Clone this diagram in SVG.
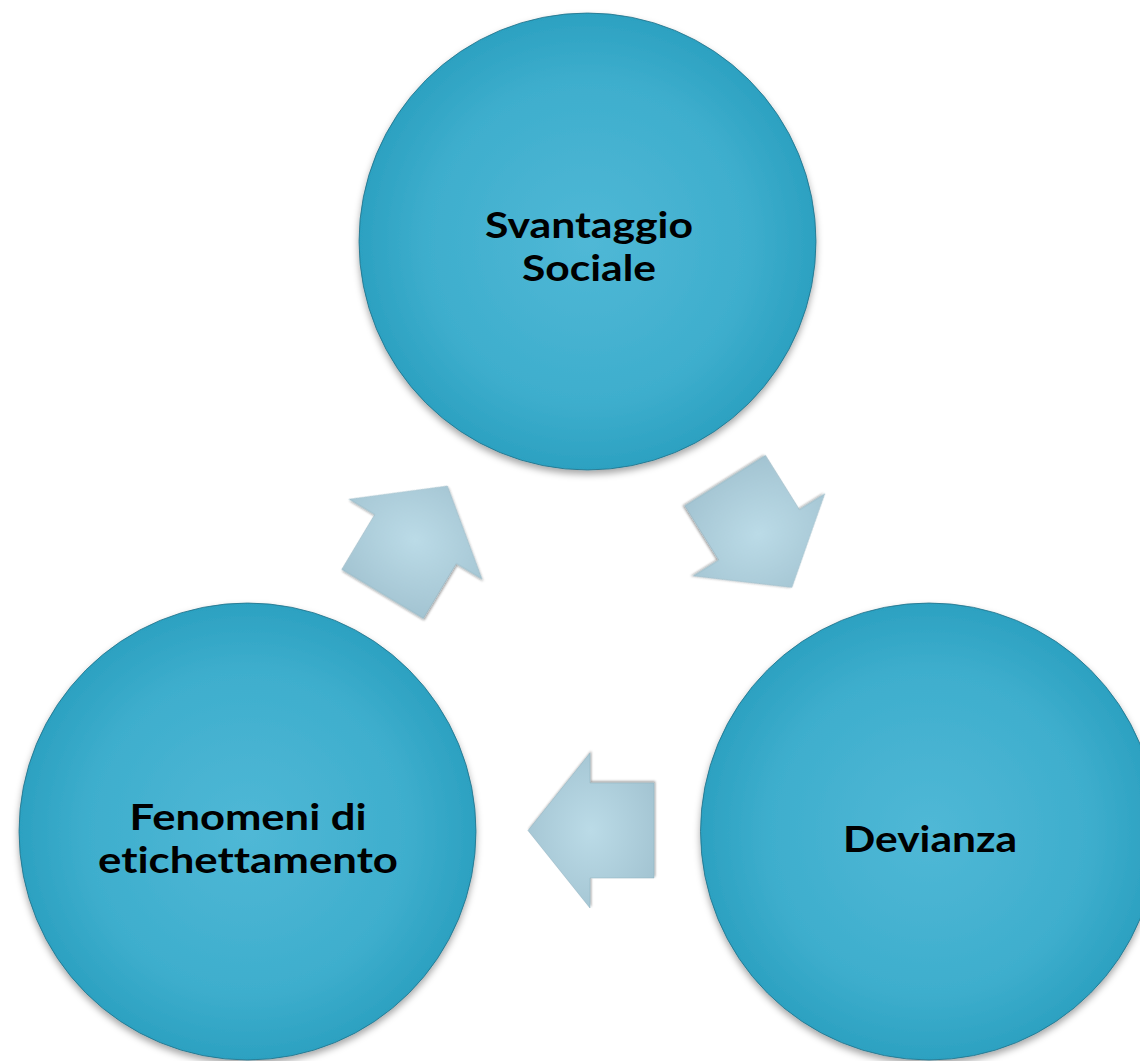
<svg xmlns="http://www.w3.org/2000/svg" width="1140" height="1061" viewBox="0 0 1140 1061">
<defs>
<radialGradient id="gc" cx="0.5" cy="0.5" r="0.5">
<stop offset="0" stop-color="#50b8d6"/>
<stop offset="0.7" stop-color="#3eaecd"/>
<stop offset="1" stop-color="#2ca1c1"/>
</radialGradient>
<radialGradient id="ga" cx="0.5" cy="0.5" r="0.6">
<stop offset="0" stop-color="#bbdbe7"/>
<stop offset="1" stop-color="#a2c3d1"/>
</radialGradient>
<filter id="sh" x="-20%" y="-20%" width="140%" height="140%">
<feDropShadow dx="0" dy="4" stdDeviation="3.5" flood-color="#000" flood-opacity="0.35"/>
</filter>
<filter id="sha" x="-30%" y="-30%" width="160%" height="160%">
<feDropShadow dx="-1" dy="1.5" stdDeviation="1.2" flood-color="#000" flood-opacity="0.4"/>
</filter>
<polygon id="arrow" points="63,0 1,-77.5 1,-47.5 -63,-47.5 -63,47.5 1,47.5 1,77.5"/>
</defs>
<style>
.node circle{fill:url(#gc);stroke:#1f6f86;stroke-width:0.8;filter:url(#sh)}
.lbl{font-family:Lato,"Open Sans","Liberation Sans",sans-serif;font-weight:bold;font-size:36px;fill:#000;text-anchor:middle;font-variant-ligatures:none}
.arr{fill:url(#ga);filter:url(#sha);stroke:#8fb0bf;stroke-width:0.5}
</style>
<rect width="1140" height="1061" fill="#fff"/>
<g id="node-svantaggio" class="node">
<circle cx="587.5" cy="241.5" r="228.5"/>
<text class="lbl" x="589" y="238" textLength="208" lengthAdjust="spacingAndGlyphs">Svantaggio</text>
<text class="lbl" x="589" y="281" textLength="134" lengthAdjust="spacingAndGlyphs">Sociale</text>
</g>
<g id="node-devianza" class="node">
<circle cx="929" cy="831.5" r="228.5"/>
<text class="lbl" x="930" y="852" textLength="174" lengthAdjust="spacingAndGlyphs">Devianza</text>
</g>
<g id="node-fenomeni" class="node">
<circle cx="247.5" cy="831.5" r="228.5"/>
<text class="lbl" x="248" y="830" textLength="237" lengthAdjust="spacingAndGlyphs">Fenomeni di</text>
<text class="lbl" x="248" y="873" textLength="300" lengthAdjust="spacingAndGlyphs">etichettamento</text>
</g>
<g id="connectors">
<use href="#arrow" class="arr" transform="translate(758.5,534) rotate(58)"/>
<use href="#arrow" class="arr" transform="translate(591,830.5) rotate(180)"/>
<use href="#arrow" class="arr" transform="translate(415,540) rotate(-59)"/>
</g>
</svg>
